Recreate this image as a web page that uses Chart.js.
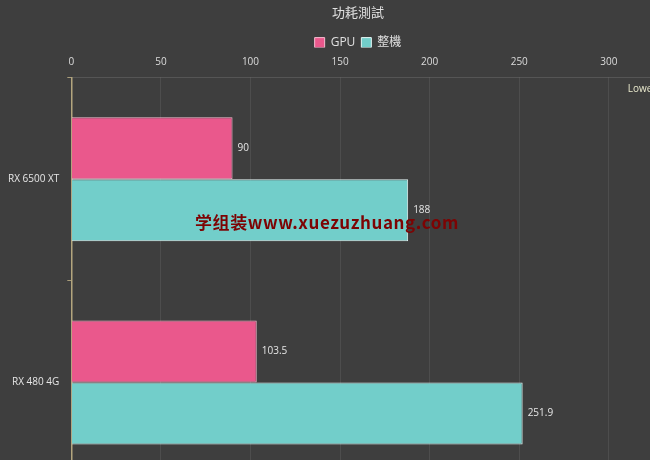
<!DOCTYPE html>
<html><head><meta charset="utf-8">
<script src="https://cdn.jsdelivr.net/npm/chart.js@4"></script>
<style>
html,body{margin:0;padding:0;background:#3e3e3e;overflow:hidden;}
#wrap{width:650px;height:460px;overflow:hidden;position:relative;}
#inner{position:absolute;left:0;top:0;width:716px;height:498px;}
</style></head>
<body><div id="wrap"><div id="inner"><canvas id="c" width="716" height="498"></canvas></div></div>
<script>
const categories = ["RX 6500 XT", "RX 480 4G"];
const gpuValues = [90, 103.5];
const systemValues = [188, 251.9];
const seriesNames = ["GPU", "整機"];
const titleText = "功耗測試";
const noteText = "Lower is better";
const watermarkText = "学组装www.xuezuzhuang.com";

const legendTrim = {
  id: 'legendTrim',
  beforeInit(chart) {
    const lg = chart.legend;
    if (lg) {
      const orig = lg.fit;
      lg.fit = function () { orig.call(this); this.height -= 11; };
    }
  }
};

const valueLabels = {
  id: 'valueLabels',
  afterDatasetsDraw(chart) {
    const ctx = chart.ctx;
    ctx.save();
    ctx.font = '10px "Open Sans", sans-serif';
    ctx.fillStyle = '#e6e6e6';
    ctx.textBaseline = 'middle';
    ctx.textAlign = 'left';
    chart.data.datasets.forEach((ds, i) => {
      chart.getDatasetMeta(i).data.forEach((el, j) => {
        ctx.fillText(String(ds.data[j]), el.x + 5, el.y);
      });
    });
    const xs = chart.scales.x;
    ctx.fillStyle = '#e8e8cc';
    ctx.font = '10px "Open Sans", sans-serif';
    ctx.fillText(noteText, xs.getPixelForValue(300) + 19, chart.chartArea.top + 12);
    ctx.font = 'bold 17px "Noto Sans CJK SC", sans-serif';
    ctx.fillStyle = '#7d0303';
    ctx.textAlign = 'center';
    if ('letterSpacing' in ctx) ctx.letterSpacing = '0.6px';
    ctx.fillText(watermarkText, 327, 223);
    ctx.restore();
  }
};

new Chart(document.getElementById('c'), {
  type: 'bar',
  data: {
    labels: categories,
    datasets: [
      { label: seriesNames[0], data: gpuValues, backgroundColor: '#ea588c', borderColor: '#f6bcd0', borderWidth: 1 },
      { label: seriesNames[1], data: systemValues, backgroundColor: '#72ceca', borderColor: '#e6f7f6', borderWidth: 1 }
    ]
  },
  options: {
    indexAxis: 'y',
    responsive: false,
    animation: false,
    categoryPercentage: 0.61,
    barPercentage: 1,
    layout: { padding: { left: 0, right: 0, top: 0, bottom: 10 } },
    plugins: {
      title: { display: true, text: titleText, color: '#e0e0e0', font: { size: 13, family: '"Noto Sans CJK TC", sans-serif', weight: 'normal' }, padding: { top: 4, bottom: 11 } },
      legend: { labels: { color: '#e0e0e0', boxWidth: 10, boxHeight: 10, padding: 6, font: { size: 12, family: '"Open Sans", "Noto Sans CJK TC", sans-serif' } } },
      tooltip: { enabled: false }
    },
    scales: {
      x: {
        position: 'top', min: 0, max: 350,
        ticks: { stepSize: 50, color: '#dcdcdc', font: { size: 10, family: '"Open Sans", sans-serif' }, padding: 9, maxRotation: 0, autoSkip: false },
        grid: { color: 'rgba(255,255,255,0.08)', tickLength: 0 },
        border: { color: 'rgba(255,255,255,0.12)' }
      },
      y: {
        ticks: { color: '#e6e6e6', font: { size: 10, family: '"Open Sans", sans-serif' }, padding: 8 },
        grid: { drawOnChartArea: false, color: '#a89c7a', tickLength: 4 },
        border: { color: '#b3a57e', width: 1.5 }
      }
    }
  },
  plugins: [legendTrim, valueLabels]
});
</script></body></html>
